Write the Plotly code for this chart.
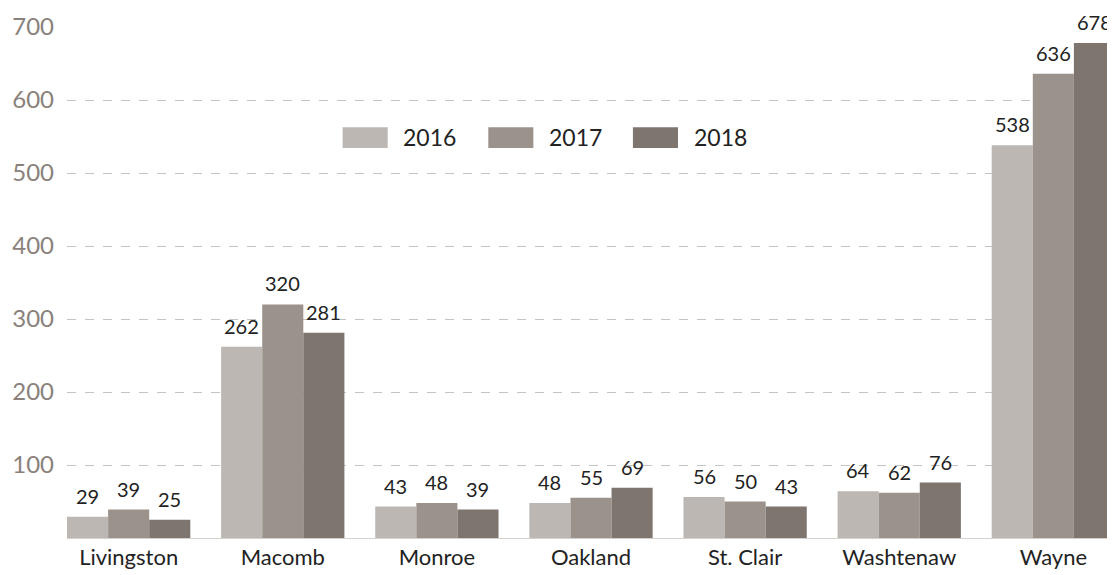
import plotly.graph_objects as go

counties = ["Livingston", "Macomb", "Monroe", "Oakland", "St. Clair", "Washtenaw", "Wayne"]
years = ["2016", "2017", "2018"]
v2016 = [29, 262, 43, 48, 56, 64, 538]
v2017 = [39, 320, 48, 55, 50, 62, 636]
v2018 = [25, 281, 39, 69, 43, 76, 678]
y_ticks = [100, 200, 300, 400, 500, 600, 700]

colors = ["#bcb7b3", "#9b928b", "#7e756f"]
series = [v2016, v2017, v2018]

FONT = "Lato"
W, H = 1107, 567          # page adds an 8px body margin
ML, MR, MT, MB = 59, 0, 19, 37
plot_w = W - ML - MR
x_lo, x_hi = -0.4, 6.4
bargap = 0.2
cat_px = plot_w / (x_hi - x_lo)
bar_px = cat_px * (1 - bargap) / len(years)

fig = go.Figure()
for i, (name, vals, col) in enumerate(zip(years, series, colors)):
    fig.add_trace(go.Bar(
        x=counties, y=vals, name=name, marker=dict(color=col, line=dict(width=0)),
        showlegend=False,
    ))
    for c, v in zip(counties, vals):
        fig.add_annotation(x=c, y=v, text=str(v), showarrow=False,
                           xanchor="center", yanchor="bottom",
                           xshift=(i - 1) * bar_px, yshift=7,
                           font=dict(size=20, color="#222222", family=FONT))

# custom legend (swatch + label)
leg_x = [0.263, 0.402, 0.540]
for name, col, lx in zip(years, colors, leg_x):
    fig.add_shape(type="rect", xref="paper", yref="paper",
                  x0=lx, x1=lx + 0.043, y0=0.763, y1=0.804,
                  fillcolor=col, line=dict(width=0))
    fig.add_annotation(xref="paper", yref="paper", x=lx + 0.056, y=0.784,
                       text=name, showarrow=False, xanchor="left", yanchor="middle",
                       font=dict(size=23, color="#222222", family=FONT))

fig.update_layout(
    width=W, height=H,
    margin=dict(l=ML, r=MR, t=MT, b=MB),
    paper_bgcolor="white", plot_bgcolor="white",
    barmode="group", bargap=bargap, bargroupgap=0,
    font=dict(family=FONT, color="#222222"),
    xaxis=dict(range=[x_lo, x_hi], showgrid=False, ticks="",
               showline=True, linecolor="#d4d0cc", linewidth=1,
               tickfont=dict(size=22, color="#222222", family=FONT)),
    yaxis=dict(range=[0, 700], tickvals=y_ticks, showgrid=True,
               gridcolor="#c4c4c4", griddash="dash", gridwidth=1,
               zeroline=False, ticks="", ticklabelstandoff=12,
               tickfont=dict(size=24, color="#8a817b", family=FONT)),
)

fig.write_html("out.html")
